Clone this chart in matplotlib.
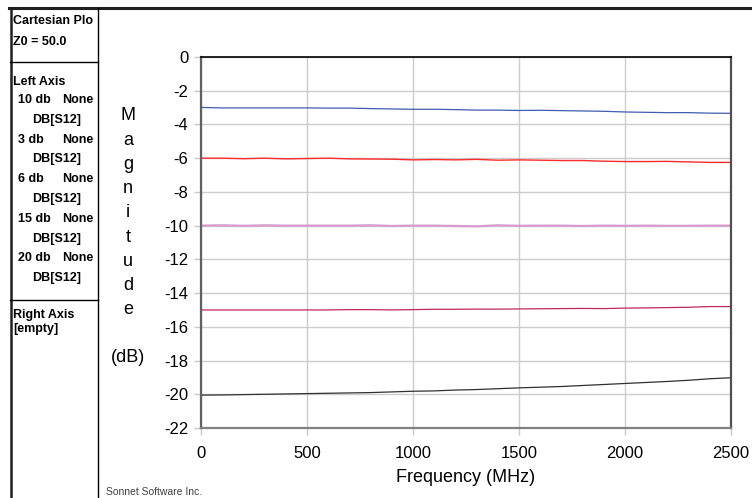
import matplotlib
matplotlib.use('Agg')
import matplotlib.pyplot as plt
from matplotlib.lines import Line2D

plt.rcParams['axes.unicode_minus'] = False

# Frequency sweep (MHz) and S12 magnitude (dB) for each attenuator
freq = [0, 100, 200, 300, 400, 500, 600, 700, 800, 900, 1000, 1100, 1200,
        1300, 1400, 1500, 1600, 1700, 1800, 1900, 2000, 2100, 2200, 2300, 2400, 2500]
att_10db = [-2.99, -3.02, -3.02, -3.02, -3.02, -3.02, -3.03, -3.03, -3.06, -3.08,
            -3.10, -3.10, -3.12, -3.15, -3.15, -3.17, -3.16, -3.18, -3.20, -3.22,
            -3.26, -3.28, -3.30, -3.30, -3.33, -3.34]
att_3db = [-6.00, -6.00, -6.03, -6.00, -6.04, -6.02, -6.00, -6.04, -6.05, -6.06,
           -6.10, -6.08, -6.10, -6.07, -6.12, -6.10, -6.12, -6.14, -6.14, -6.18,
           -6.20, -6.20, -6.19, -6.22, -6.25, -6.25]
att_6db = [-10.00, -9.98, -10.01, -9.98, -10.00, -10.00, -10.00, -10.00, -9.98, -10.02,
           -10.00, -10.00, -10.02, -10.04, -9.98, -10.01, -10.00, -10.00, -10.02, -10.00,
           -10.01, -10.00, -10.01, -10.01, -10.00, -10.00]
att_15db = [-15.00, -15.00, -15.00, -15.00, -15.00, -15.00, -15.00, -14.98, -14.98, -15.00,
            -14.98, -14.96, -14.96, -14.95, -14.95, -14.94, -14.93, -14.92, -14.91, -14.92,
            -14.89, -14.88, -14.86, -14.84, -14.80, -14.80]
att_20db = [-20.05, -20.04, -20.02, -20.00, -19.98, -19.96, -19.94, -19.92, -19.90, -19.86,
            -19.82, -19.80, -19.75, -19.72, -19.67, -19.62, -19.58, -19.54, -19.48, -19.42,
            -19.36, -19.30, -19.24, -19.17, -19.08, -19.02]

x_ticks = [0, 500, 1000, 1500, 2000, 2500]
y_ticks = list(range(0, -23, -2))

legend_rows = [("10 db", "None"), ("3 db", "None"), ("6 db", "None"),
               ("15 db", "None"), ("20 db", "None")]

W, H = 752, 498
fig = plt.figure(figsize=(W / 100, H / 100), dpi=100)


def fx(px):
    return px / W


def fy(py):
    return 1 - py / H


ax = fig.add_axes([fx(201), fy(428), fx(731) - fx(201), fy(57) - fy(428)])

ax.plot(freq, att_10db, color='#3f5cb0', lw=0.9)
ax.plot(freq, att_3db, color='#ff2a2a', lw=1.0)
ax.plot(freq, att_6db, color='#d89ad0', lw=1.6)
ax.plot(freq, att_15db, color='#c0285a', lw=0.9)
ax.plot(freq, att_20db, color='#303030', lw=0.9)

ax.set_xlim(0, 2500)
ax.set_ylim(-22, 0)
ax.set_xticks(x_ticks)
ax.set_yticks(y_ticks)
ax.grid(True, color='#cccccc', lw=1.0)
ax.set_axisbelow(True)
ax.tick_params(direction='out', length=5, width=1, color='#c8c8c8',
               labelsize=12, pad=4)
ax.tick_params(axis='x', pad=8)
for lab in ax.get_xticklabels() + ax.get_yticklabels():
    lab.set_family('Liberation Sans')

ax.spines['top'].set_color('#000000')
ax.spines['top'].set_linewidth(1.2)
ax.spines['right'].set_color('#505050')
ax.spines['right'].set_linewidth(1.6)
ax.spines['left'].set_color('#606060')
ax.spines['left'].set_linewidth(1.6)
ax.spines['bottom'].set_color('#808080')
ax.spines['bottom'].set_linewidth(1.6)

ax.set_xlabel('Frequency (MHz)', fontsize=13, family='Liberation Sans', labelpad=6)

# vertical stacked y label
for i, ch in enumerate("Magnitude"):
    fig.text(fx(128), fy(116 + i * 24.2), ch, fontsize=13, family='Liberation Sans',
             ha='center', va='center')
fig.text(fx(128), fy(358), "(dB)", fontsize=13, family='Liberation Sans',
         ha='center', va='center')

fig.text(fx(106), fy(492), "Sonnet Software Inc.", fontsize=7.5,
         family='Liberation Sans', color='#404040', va='center')

# outer frame and left info panel
fig.add_artist(Line2D([fx(9), 1], [fy(8), fy(8)], color='#202020', lw=2.2))
fig.add_artist(Line2D([fx(10.5), fx(10.5)], [0, fy(8)], color='#202020', lw=1.8))
fig.add_artist(Line2D([fx(98), fx(98)], [0, fy(8)], color='#000000', lw=1.0))
fig.add_artist(Line2D([fx(10), fx(98)], [fy(62), fy(62)], color='#000000', lw=1.0))
fig.add_artist(Line2D([fx(10), fx(98)], [fy(300), fy(300)], color='#000000', lw=1.0))

bold = dict(fontsize=9, family='Liberation Sans', weight='bold', va='center')
fig.text(fx(13), fy(21), "Cartesian Plo", **bold)
fig.text(fx(13), fy(42), "Z0 = 50.0", **bold)
fig.text(fx(13), fy(82), "Left Axis", **bold)
for i, (name, unit) in enumerate(legend_rows):
    y0 = 100 + i * 39.6
    fig.text(fx(18), fy(y0), name, **bold)
    fig.text(fx(93), fy(y0), unit, ha='right', **bold)
    fig.text(fx(32), fy(y0 + 19.8), "DB[S12]", **bold)
fig.text(fx(13), fy(315), "Right Axis", **bold)
fig.text(fx(13), fy(329), "[empty]", **bold)

fig.savefig('out.png', dpi=100)
